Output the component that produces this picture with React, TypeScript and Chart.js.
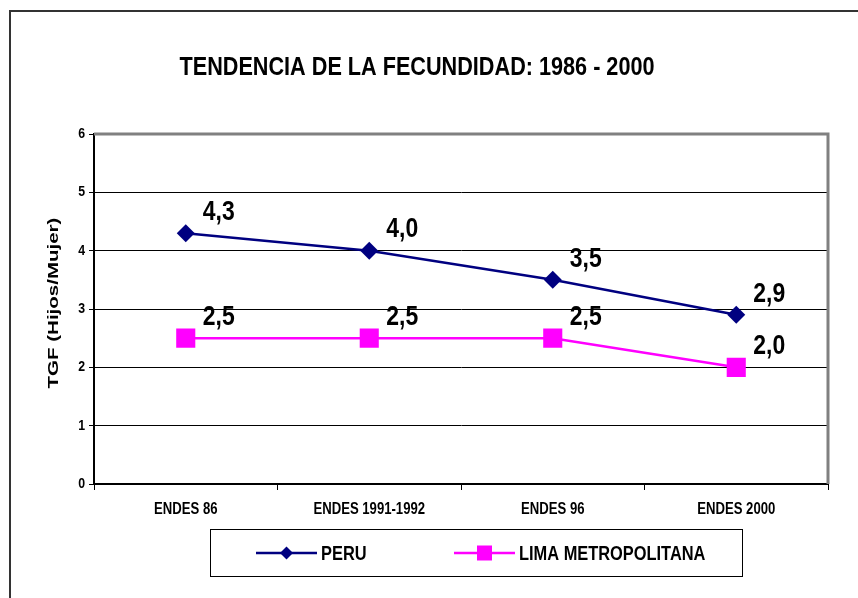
import React, { useEffect, useRef } from "react";
import { Chart, registerables } from "chart.js";

Chart.register(...registerables);

const titleText = "TENDENCIA DE LA FECUNDIDAD: 1986 - 2000";
const yAxisTitle = "TGF (Hijos/Mujer)";
const categories = ["ENDES 86", "ENDES 1991-1992", "ENDES 96", "ENDES 2000"];
const peruValues = [4.3, 4.0, 3.5, 2.9];
const limaValues = [2.5, 2.5, 2.5, 2.0];
const seriesNames = ["PERU", "LIMA METROPOLITANA"];
const yTicks = [0, 1, 2, 3, 4, 5, 6];

const FONT = "'Liberation Sans', Arial, sans-serif";
const NARROW_X = 0.82;
const NAVY = "#000080";
const MAGENTA = "#FF00FF";

function narrowText(
  ctx: CanvasRenderingContext2D,
  text: string,
  x: number,
  y: number,
  size: number,
  align: CanvasTextAlign
) {
  ctx.save();
  ctx.translate(x, y);
  ctx.scale(NARROW_X, 1);
  ctx.font = `bold ${size}px ${FONT}`;
  ctx.textAlign = align;
  ctx.textBaseline = "middle";
  ctx.fillStyle = "#000";
  ctx.fillText(text, 0, 0);
  ctx.restore();
}

const decorPlugin = {
  id: "decor",
  beforeDatasetsDraw(chart: any) {
    const { ctx, chartArea } = chart;
    ctx.save();
    ctx.strokeStyle = "#808080";
    ctx.lineWidth = 3;
    ctx.beginPath();
    ctx.moveTo(chartArea.left, chartArea.top);
    ctx.lineTo(chartArea.right, chartArea.top);
    ctx.lineTo(chartArea.right, chartArea.bottom);
    ctx.stroke();
    ctx.restore();
  },
  afterDatasetsDraw(chart: any) {
    const { ctx } = chart;
    chart.data.datasets.forEach((ds: any, i: number) => {
      const meta = chart.getDatasetMeta(i);
      meta.data.forEach((pt: any, j: number) => {
        const v = ds.data[j] as number;
        const txt = v.toFixed(1).replace(".", ",");
        narrowText(ctx, txt, pt.x + 17, pt.y - 21, 28, "left");
      });
    });
  },
  afterDraw(chart: any) {
    const { ctx, scales } = chart;
    ctx.save();
    ctx.setTransform(1, 0, 0, 1, 0, 0);
    // outer border
    ctx.strokeStyle = "#333";
    ctx.lineWidth = 2;
    ctx.beginPath();
    ctx.moveTo(10, 598);
    ctx.lineTo(10, 11);
    ctx.lineTo(858, 11);
    ctx.stroke();

    // title
    narrowText(ctx, titleText, 417, 68, 26.4, "center");

    // tick labels
    yTicks.forEach((v) => {
      narrowText(ctx, String(v), 85, scales.y.getPixelForValue(v), 15, "right");
    });
    categories.forEach((c, i) => {
      narrowText(ctx, c, scales.x.getPixelForValue(i), 510, 16, "center");
    });

    // y axis title (rotated, condensed across)
    ctx.save();
    ctx.translate(54, 303);
    ctx.rotate(-Math.PI / 2);
    ctx.scale(1, 0.69);
    ctx.font = `bold 20.5px ${FONT}`;
    ctx.textAlign = "center";
    ctx.textBaseline = "middle";
    ctx.fillStyle = "#000";
    ctx.fillText(yAxisTitle, 0, 0);
    ctx.restore();

    // legend
    ctx.strokeStyle = "#000";
    ctx.lineWidth = 1;
    ctx.strokeRect(210.5, 529.5, 532, 47);
    const ly = 553;
    const items = [
      { x: 256, color: NAVY, style: "diamond", name: seriesNames[0] },
      { x: 454, color: MAGENTA, style: "square", name: seriesNames[1] },
    ];
    items.forEach((it) => {
      ctx.strokeStyle = it.color;
      ctx.lineWidth = 2.5;
      ctx.beginPath();
      ctx.moveTo(it.x, ly);
      ctx.lineTo(it.x + 61, ly);
      ctx.stroke();
      ctx.fillStyle = it.color;
      const cx = it.x + 30.5;
      if (it.style === "diamond") {
        ctx.beginPath();
        ctx.moveTo(cx - 6.5, ly);
        ctx.lineTo(cx, ly - 6.5);
        ctx.lineTo(cx + 6.5, ly);
        ctx.lineTo(cx, ly + 6.5);
        ctx.closePath();
        ctx.fill();
      } else {
        ctx.fillRect(cx - 7.5, ly - 7.5, 15, 15);
      }
      narrowText(ctx, it.name, it.x + 65, ly + 1, 20, "left");
    });
    ctx.restore();
  },
};

export default function App() {
  const ref = useRef<HTMLCanvasElement>(null);
  useEffect(() => {
    document.body.style.margin = "0";
    const chart = new Chart(ref.current!, {
      type: "line",
      data: {
        labels: categories,
        datasets: [
          {
            label: seriesNames[0],
            data: peruValues,
            borderColor: NAVY,
            backgroundColor: NAVY,
            borderWidth: 2.5,
            pointStyle: "rectRot",
            pointRadius: 9,
            pointBorderWidth: 0,
            tension: 0,
          },
          {
            label: seriesNames[1],
            data: limaValues,
            borderColor: MAGENTA,
            backgroundColor: MAGENTA,
            borderWidth: 2.5,
            pointStyle: "rect",
            pointRadius: 13.5,
            pointBorderWidth: 0,
            tension: 0,
          },
        ],
      },
      plugins: [decorPlugin],
      options: {
        responsive: false,
        animation: false,
        events: [],
        layout: { padding: { top: 134, right: 30, left: 0, bottom: 0 } },
        plugins: {
          legend: { display: false },
          title: { display: false },
          tooltip: { enabled: false },
        },
        scales: {
          x: {
            offset: true,
            afterFit: (s: any) => {
              s.height = 114;
            },
            grid: { offset: true, drawOnChartArea: false, tickLength: 6, color: "#000", lineWidth: 1 },
            border: { color: "#000", width: 2 },
            ticks: { display: false },
          },
          y: {
            min: 0,
            max: 6,
            afterFit: (s: any) => {
              s.width = 94;
            },
            afterBuildTicks: (s: any) => {
              s.ticks = yTicks.map((v) => ({ value: v }));
            },
            grid: { color: "#000", lineWidth: 1, tickLength: 5 },
            border: { color: "#000", width: 2 },
            ticks: { display: false },
          },
        },
      },
    });
    return () => chart.destroy();
  }, []);
  return <canvas ref={ref} width={858} height={598} style={{ display: "block" }} />;
}
